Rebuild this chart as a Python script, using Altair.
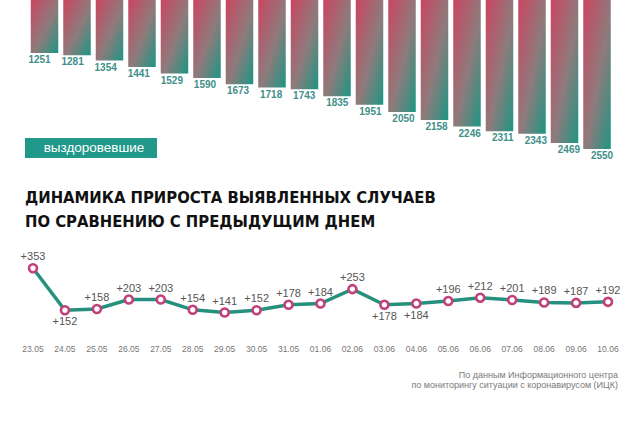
import altair as alt
import pandas as pd

# ---- data ----
recovered = [1251, 1281, 1354, 1441, 1529, 1590, 1673, 1718, 1743,
             1835, 1951, 2050, 2158, 2246, 2311, 2343, 2469, 2550]

dates = ["23.05", "24.05", "25.05", "26.05", "27.05", "28.05", "29.05", "30.05",
         "31.05", "01.06", "02.06", "03.06", "04.06", "05.06", "06.06", "07.06",
         "08.06", "09.06", "10.06"]
increase = [353, 152, 158, 203, 203, 154, 141, 152, 178, 184,
            253, 178, 184, 196, 212, 201, 189, 187, 192]
label_below = [False, True, False, False, False, False, False, False, False, False,
               False, True, True, False, False, False, False, False, False]

title_lines = ["ДИНАМИКА ПРИРОСТА ВЫЯВЛЕННЫХ СЛУЧАЕВ", "ПО СРАВНЕНИЮ С ПРЕДЫДУЩИМ ДНЕМ"]
legend_label = "выздоровевшие"
source_lines = ["По данным Информационного центра",
                "по мониторингу ситуации с коронавирусом (ИЦК)"]

bars_df = pd.DataFrame({"i": list(range(len(recovered))), "v": recovered,
                        "lab": [str(v) for v in recovered]})
line_df = pd.DataFrame({"i": list(range(len(dates))), "d": dates, "v": increase,
                        "lab": ["+" + str(v) for v in increase],
                        "below": label_below})

RED = "#cb4561"
TEAL = "#1b9683"

bx = alt.X("i:Q", scale=alt.Scale(domain=[0, len(recovered) - 1], range=[39.5, 602]), axis=None)
by_scale = alt.Scale(domain=[534, 2550], range=[0, 149])

bars = alt.Chart(bars_df).mark_bar(
    width=27.5,
    color=alt.Gradient(gradient="linear",
                       stops=[alt.GradientStop(color=RED, offset=0),
                              alt.GradientStop(color="#8e7b7c", offset=0.55),
                              alt.GradientStop(color=TEAL, offset=1)],
                       x1=0, y1=0, x2=1, y2=1)
).encode(x=bx, y=alt.Y("v:Q", scale=by_scale, axis=None), y2=alt.datum(534))

bar_labels = alt.Chart(bars_df).mark_text(
    baseline="middle", dy=7, fontSize=10, fontWeight="bold", color="#3f8f8a",
    font="Liberation Sans"
).encode(x=bx, y=alt.Y("v:Q", scale=by_scale, axis=None), text="lab:N")

legend_df = pd.DataFrame({"t": [legend_label]})
legend_box = alt.Chart(legend_df).mark_rect(color="#21998a").encode(
    x=alt.value(25), x2=alt.value(157), y=alt.value(138), y2=alt.value(158))
legend_text = alt.Chart(legend_df).mark_text(
    color="white", fontSize=13.5, font="Liberation Sans", baseline="middle", align="center"
).encode(x=alt.value(94), y=alt.value(148), text="t:N")

title_df = pd.DataFrame({"t": title_lines, "k": [0, 1]})
title = alt.Chart(title_df).mark_text(
    align="left", baseline="alphabetic", fontSize=16.5, fontWeight="bold",
    font="Liberation Sans Narrow, DejaVu Sans Condensed", color="#111111"
).encode(x=alt.value(25),
         y=alt.Y("k:Q", scale=alt.Scale(domain=[0, 1], range=[203, 227]), axis=None),
         text="t:N")

lx = alt.X("i:Q", scale=alt.Scale(domain=[0, len(dates) - 1], range=[33, 608]), axis=None)
ly_scale = alt.Scale(domain=[0, 400], range=[342, 258.4])
ly = alt.Y("v:Q", scale=ly_scale, axis=None)

line = alt.Chart(line_df).mark_line(color="#26907e", strokeWidth=3.5).encode(x=lx, y=ly)
points = alt.Chart(line_df).mark_point(
    filled=True, fill="white", stroke="#c2407c", strokeWidth=2.6, size=64, opacity=1
).encode(x=lx, y=ly)

lab_above = alt.Chart(line_df).transform_filter("!datum.below").mark_text(
    dy=-11, fontSize=11, color="#555555", font="Liberation Sans", baseline="middle"
).encode(x=lx, y=ly, text="lab:N")
lab_below = alt.Chart(line_df).transform_filter("datum.below").mark_text(
    dy=12, fontSize=11, color="#555555", font="Liberation Sans", baseline="middle"
).encode(x=lx, y=ly, text="lab:N")

date_labels = alt.Chart(line_df).mark_text(
    fontSize=8.5, color="#777777", font="Liberation Sans", baseline="middle"
).encode(x=lx, y=alt.value(349), text="d:N")

src_df = pd.DataFrame({"t": source_lines, "k": [0, 1]})
source = alt.Chart(src_df).mark_text(
    align="right", baseline="middle", fontSize=9, color="#7a7a7a", font="Liberation Sans"
).encode(x=alt.value(618),
         y=alt.Y("k:Q", scale=alt.Scale(domain=[0, 1], range=[375, 385]), axis=None),
         text="t:N")

chart = alt.layer(
    bars, bar_labels, legend_box, legend_text, title,
    line, points, lab_above, lab_below, date_labels, source
).resolve_scale(x="independent", y="independent").properties(
    width=640, height=425, padding=0, autosize=alt.AutoSizeParams(type="none"),
    background="white"
).configure_view(stroke=None)

chart.save("out.html", embed_options={"renderer": "svg", "actions": False})
